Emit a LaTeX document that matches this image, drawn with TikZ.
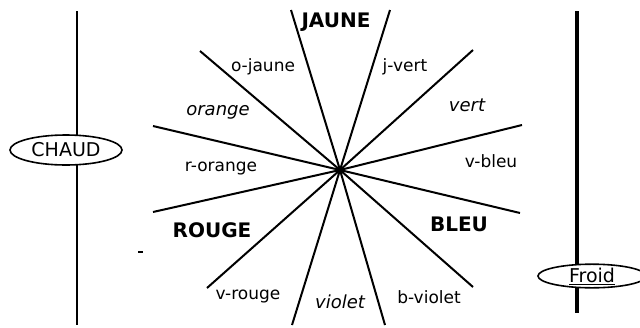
\documentclass[tikz,border=0pt]{standalone}
\usepackage{fontspec}
\setmainfont{DejaVu Sans}
\usetikzlibrary{shapes.geometric}

\begin{document}
\begin{tikzpicture}[x=1pt,y=-1pt,
  ray/.style={line width=2pt},
  pill/.style={ellipse,draw,fill=white,line width=1.6pt,inner sep=0pt},
  hue/.style={inner sep=0pt,font=\fontsize{20}{22}\selectfont\bfseries},
  mix/.style={inner sep=0pt,font=\fontsize{17}{19}\selectfont},
  pure/.style={inner sep=0pt,font=\fontsize{18}{20}\selectfont\itshape}]
  \useasboundingbox (0,0) rectangle (640,327);
  % the star of hues
  \coordinate (c) at (340,170);
  \foreach \x/\y [count=\i] in {291/10,390/10,200/51,473/50,153/126,522/125,
                                153/212,520/213,207/288,473/287,292/325,385/325}{
    \coordinate (r\i) at (\x,\y);
    \draw[ray] (c) -- (r\i);
  }
  % warm and cold poles
  \coordinate (chaudtop) at (77,11);
  \coordinate (chaudbot) at (77,325);
  \coordinate (froidtop) at (577,11);
  \coordinate (froidbot) at (577,313);
  \draw[line width=2pt] (chaudtop) -- (chaudbot);
  \draw[line width=3.5pt] (froidtop) -- (froidbot);
  \node[pill,minimum width=112pt,minimum height=30pt,font=\fontsize{19}{21}\selectfont] (chaud) at (66,150) {CHAUD\hspace{22pt}};
  \node[pill,minimum width=108pt,minimum height=22pt,font=\fontsize{19}{21}\selectfont] (froid) at (592,276) {\underline{Froid}};
  \draw[line width=2pt] (138,252) -- (143,252);
  % labels
  \node[hue] (jaune) at (336,22) {JAUNE};
  \node[hue] (rouge) at (212,230) {ROUGE};
  \node[hue] (bleu) at (459,224) {BLEU};
  \node[pure] (orange) at (218,112) {orange};
  \node[pure] (vert) at (467,105) {vert};
  \node[pure] (violet) at (340,302) {violet};
  \node[mix] (ojaune) at (263,67) {o-jaune};
  \node[mix] (jvert) at (405,67) {j-vert};
  \node[mix] (rorange) at (221,169) {r-orange};
  \node[mix] (vbleu) at (491,161) {v-bleu};
  \node[mix] (vrouge) at (248,297) {v-rouge};
  \node[mix] (bviolet) at (429,297) {b-violet};
\end{tikzpicture}
\end{document}
